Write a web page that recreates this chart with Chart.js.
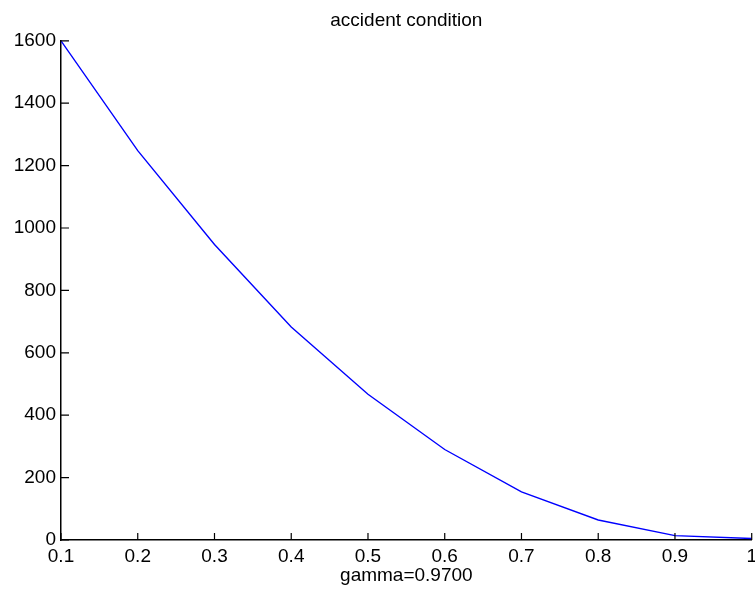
<!DOCTYPE html>
<html>
<head>
<meta charset="utf-8">
<script src="https://cdn.jsdelivr.net/npm/chart.js@4/dist/chart.umd.min.js"></script>
<style>
  html,body{margin:0;padding:0;background:#fff;overflow:hidden;}
  #wrap{width:764px;height:592px;}
</style>
</head>
<body>
<div id="wrap"><canvas id="myChart1" width="764" height="592"></canvas></div>
<script>
// gamma values along the x axis
var gammaX=[0.1,0.2,0.3,0.4,0.5,0.6,0.7,0.8,0.9,1.0];
// accident condition values
var accident=[1600,1248,947,683,467,290,154,64,14,5];
var xTicks=[0.1,0.2,0.3,0.4,0.5,0.6,0.7,0.8,0.9,1.0];
var yTicks=[0,200,400,600,800,1000,1200,1400,1600];

// matlab style ticks that point into the plot
var innerTicks={
  id:'innerTicks',
  afterDraw:function(chart){
    var c=chart.ctx, a=chart.chartArea;
    var xs=chart.scales.x, ys=chart.scales.y;
    c.save();
    c.strokeStyle='#000';
    c.lineWidth=1.2;
    c.beginPath();
    xTicks.forEach(function(v){
      var px=xs.getPixelForValue(v);
      c.moveTo(px,a.bottom);c.lineTo(px,a.bottom-7);
    });
    yTicks.forEach(function(v){
      var py=ys.getPixelForValue(v);
      c.moveTo(a.left,py);c.lineTo(a.left+8,py);
    });
    c.stroke();
    c.restore();
  }
};

var ctx=document.querySelector("#myChart1").getContext("2d");
var myChart=new Chart(ctx,{
    type:"line",
    data:{
        labels:gammaX,
        datasets:[{
          label:'accident condition',
          data:gammaX.map(function(g,i){return {x:g,y:accident[i]};}),
          borderColor:'#0000ff',
          borderWidth:1.4,
          pointRadius:0,
          tension:0,
          fill:false,
        }],
    },
    options:{
        responsive:false,
        animation:false,
        layout:{
          padding:{left:0,right:0,top:0,bottom:7}
        },
        plugins:{
          legend:{display:false},
          tooltip:{enabled:false},
          title:{
            display:true,
            fullSize:false,
            text:"accident condition",
            color:'#000',
            padding:{top:9,bottom:9},
            font:{family:'Liberation Sans',size:19,weight:'normal',lineHeight:1.2}
          }
        },
        scales:{
          x:{
            type:'linear',
            min:0.1,
            max:1.0,
            afterBuildTicks:function(s){s.ticks=xTicks.map(function(v){return {value:v};});},
            grid:{display:true,drawOnChartArea:false,drawTicks:false},
            border:{display:true,color:'#000',width:1.5},
            ticks:{
              color:'#000',
              padding:7,
              maxRotation:0,
              autoSkip:false,
              font:{family:'Liberation Sans',size:19,lineHeight:1},
              callback:function(v){return String(Number(v.toFixed(1)));}
            },
            title:{
              display:true,
              text:'gamma=0.9700',
              color:'#000',
              padding:{top:-7,bottom:0},
              font:{family:'Liberation Sans',size:19,lineHeight:1}
            }
          },
          y:{
            min:0,
            max:1600,
            afterBuildTicks:function(s){s.ticks=yTicks.map(function(v){return {value:v};});},
            afterFit:function(s){s.width=61;},
            grid:{display:true,drawOnChartArea:false,drawTicks:false},
            border:{display:true,color:'#000',width:1.5},
            ticks:{
              color:'#000',
              padding:5,
              autoSkip:false,
              font:{family:'Liberation Sans',size:19},
              callback:function(v){return String(v);}
            }
          }
        }
    },
    plugins:[innerTicks]
})
</script>
</body>
</html>
